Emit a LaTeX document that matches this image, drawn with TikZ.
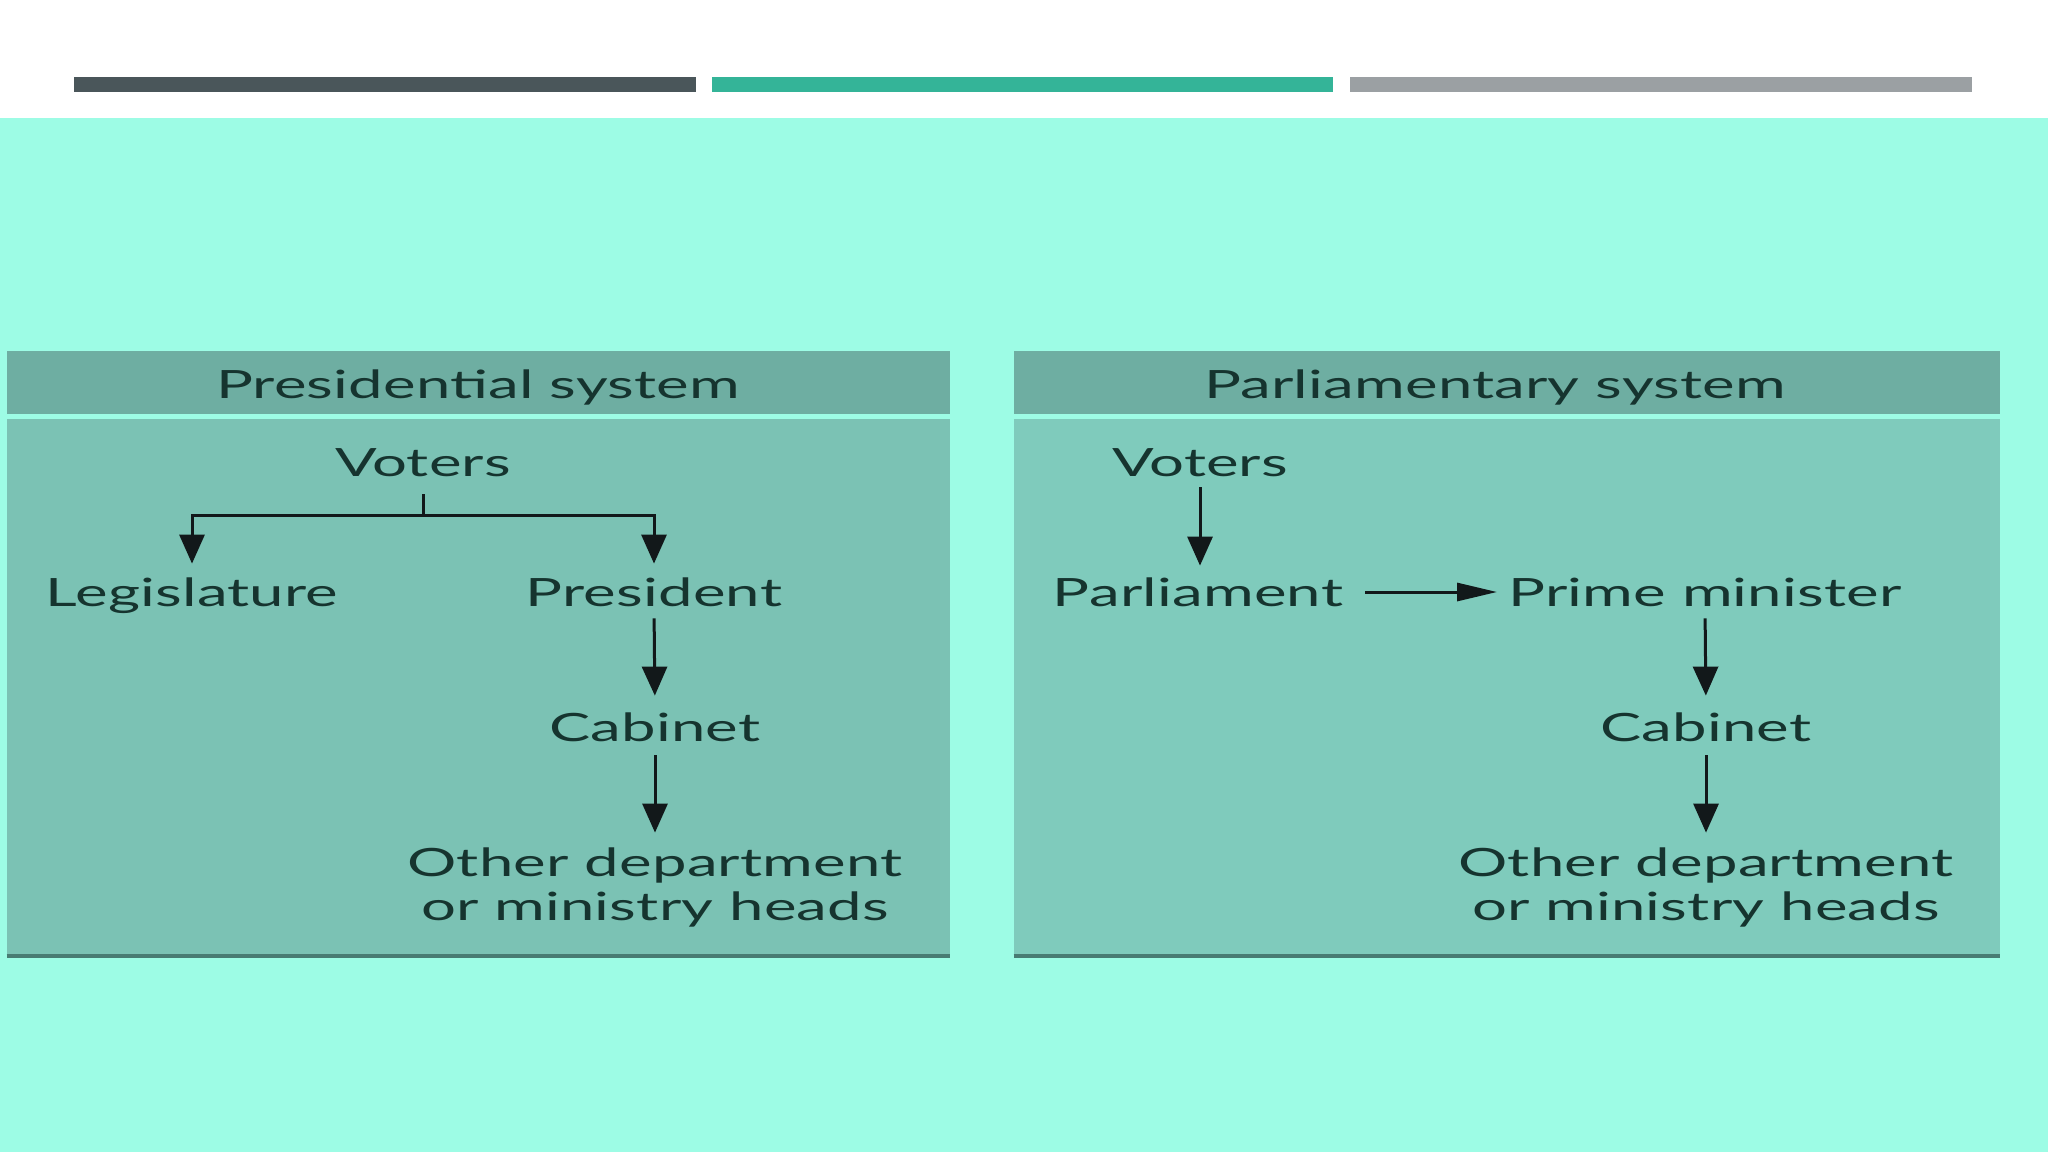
\documentclass[tikz,border=0pt]{standalone}
\usepackage{fontspec}
\setmainfont{Lato}[FakeStretch=1.58,LetterSpace=0.5]
\usetikzlibrary{arrows.meta}
\definecolor{bgc}{RGB}{157,252,229}
\definecolor{barA}{RGB}{74,86,90}
\definecolor{barB}{RGB}{52,180,152}
\definecolor{barC}{RGB}{155,160,163}
\definecolor{headc}{RGB}{110,174,162}
\definecolor{bodyL}{RGB}{123,194,180}
\definecolor{bodyR}{RGB}{127,203,188}
\definecolor{edgec}{RGB}{72,124,115}
\definecolor{txtc}{RGB}{22,52,47}
\definecolor{arrc}{RGB}{18,24,26}
\begin{document}
\begin{tikzpicture}[x=0.5pt,y=-0.5pt,
  lbl/.style={inner sep=0pt, text height=14pt, text depth=0pt, text=txtc,
    font=\fontsize{19.5pt}{22pt}\selectfont},
  conn/.style={draw=arrc, line width=1.5pt},
  varrow/.style={conn, -{Triangle[length=14.5pt,width=12.5pt]}},
  harrow/.style={conn, -{Triangle[length=20pt,width=9pt]}}]
\useasboundingbox (0,0) rectangle (2048,1152);
\fill[white] (0,0) rectangle (2048,1152);
\fill[bgc] (0,117.5) rectangle (2048,1152);
% top bars
\fill[barA] (74,77) rectangle (696,91.5);
\fill[barB] (712,77) rectangle (1333,91.5);
\fill[barC] (1350,77) rectangle (1972,91.5);
% left panel
\fill[headc] (6.5,351) rectangle (949.5,414);
\fill[bodyL] (6.5,419) rectangle (949.5,957);
\draw[edgec, line width=2pt] (6.5,956) -- (949.5,956);
% right panel
\fill[headc] (1013.5,351) rectangle (2000,414);
\fill[bodyR] (1013.5,419) rectangle (2000,957);
\draw[edgec, line width=2pt] (1013.5,956) -- (2000,956);

% left texts
\node[lbl, anchor=base] (hL) at (478,398) {Presidential system};
\node[lbl, anchor=base] (vL) at (423,476.5) {Voters};
\node[lbl, anchor=base] (leg) at (192,606) {Legislature};
\node[lbl, anchor=base] (pres) at (654,606) {President};
\node[lbl, anchor=base] (cabL) at (655,741) {Cabinet};
\node[lbl, anchor=base] (othL) at (655,876) {\begin{tabular}[t]{@{}c@{}}Other department\\or ministry heads\end{tabular}};

% right texts
\node[lbl, anchor=base] (hR) at (1495,398) {Parliamentary system};
\node[lbl, anchor=base] (vR) at (1200,476.5) {Voters};
\node[lbl, anchor=base] (parl) at (1198,606) {Parliament};
\node[lbl, anchor=base] (pm) at (1705,606) {Prime minister};
\node[lbl, anchor=base] (cabR) at (1706,741) {Cabinet};
\node[lbl, anchor=base] (othR) at (1706,876) {\begin{tabular}[t]{@{}c@{}}Other department\\or ministry heads\end{tabular}};

% left connectors
\coordinate (jL) at (422,515);
\draw[conn, shorten <=8.75pt] (vL.south) -- (vL.south |- jL);
\draw[varrow, shorten >=7pt] (jL) -| (leg.north);
\draw[varrow, shorten >=7pt] (jL) -| (pres.north);
\draw[varrow, shorten <=6pt, shorten >=8.5pt] (pres.south) -- (cabL.north);
\draw[varrow, shorten <=7pt, shorten >=7.5pt] (cabL.south) -- (othL.north);

% right connectors
\draw[varrow, shorten <=5.25pt, shorten >=6pt] (vR.south) -- (vR.south |- parl.north);
\draw[harrow, shorten <=11pt, shorten >=5.5pt] (parl.east) -- (pm.west);
\draw[varrow, shorten <=6pt, shorten >=8.5pt] (pm.south) -- (cabR.north);
\draw[varrow, shorten <=7pt, shorten >=7.5pt] (cabR.south) -- (othR.north);
\end{tikzpicture}
\end{document}
